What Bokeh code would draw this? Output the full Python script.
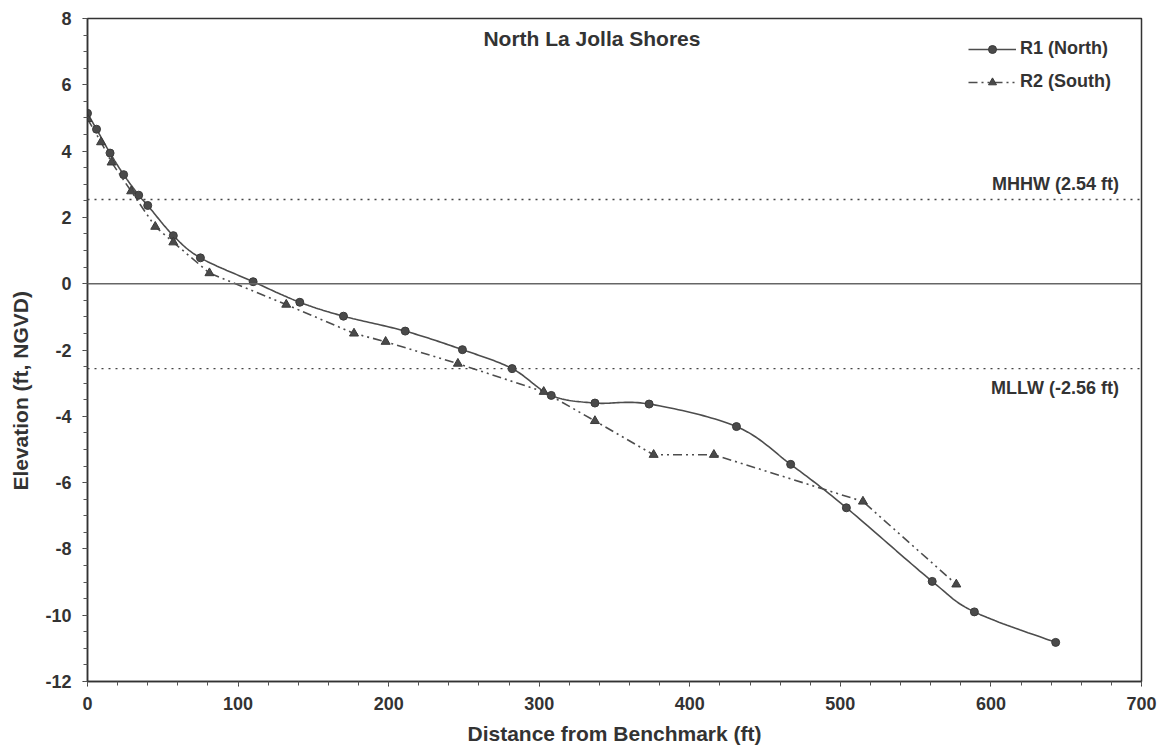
import numpy as np
from bokeh.plotting import figure
from bokeh.models import Label, Span, Legend, LegendItem, SingleIntervalTicker, Range1d, PrintfTickFormatter
from bokeh.embed import file_html
from bokeh.resources import INLINE

# ---- data ----
r1_x = [0, 6, 15, 24, 34, 40, 57, 75, 110, 141, 170, 211, 249, 282, 308, 337, 373, 431, 467, 504, 561, 589, 643]
r1_y = [5.14, 4.66, 3.94, 3.29, 2.67, 2.36, 1.45, 0.78, 0.06, -0.56, -0.98, -1.43, -1.99, -2.56,
        -3.37, -3.60, -3.63, -4.31, -5.45, -6.76, -8.98, -9.90, -10.82]
r2_x = [0, 9, 16, 29, 45, 57, 81, 132, 177, 198, 246, 303, 337, 376, 416, 515, 577]
r2_y = [4.97, 4.27, 3.66, 2.79, 1.72, 1.25, 0.32, -0.63, -1.50, -1.75, -2.41, -3.26, -4.14,
        -5.16, -5.16, -6.57, -9.07]
series_names = ["R1 (North)", "R2 (South)"]
mhhw = 2.54
mllw = -2.56
title_text = "North La Jolla Shores"
x_label = "Distance from Benchmark (ft)"
y_label = "Elevation (ft, NGVD)"

FONT = "Liberation Sans"
TXT = "#333333"
FS = "18px"
FS_T = "21px"


def smooth(xs, ys, n=24):
    """Catmull-Rom style smoothing (like a spreadsheet 'smoothed line')."""
    P = np.column_stack([xs, ys]).astype(float)
    out = [P[0]]
    t = np.linspace(0, 1, n)[1:, None]
    for i in range(len(P) - 1):
        p0 = P[i - 1] if i > 0 else P[i]
        p1, p2 = P[i], P[i + 1]
        p3 = P[i + 2] if i + 2 < len(P) else P[i + 1]
        c1 = p1 + (p2 - p0) / 6.0
        c2 = p2 - (p3 - p1) / 6.0
        seg = ((1 - t) ** 3) * p1 + 3 * ((1 - t) ** 2) * t * c1 + 3 * (1 - t) * t ** 2 * c2 + t ** 3 * p2
        out.extend(seg)
    out = np.array(out)
    return out[:, 0], out[:, 1]


p = figure(width=1158, height=752, frame_width=1054, frame_height=663,
           min_border_left=87, min_border_right=17, min_border_top=18, min_border_bottom=71,
           x_range=Range1d(0, 700), y_range=Range1d(-12, 8),
           output_backend="svg", toolbar_location=None, background_fill_color="white",
           border_fill_color="white")
p.grid.visible = False
p.outline_line_color = "#333333"
p.outline_line_width = 1.5

p.xaxis.ticker = SingleIntervalTicker(interval=100, num_minor_ticks=5)
p.yaxis.ticker = SingleIntervalTicker(interval=2, num_minor_ticks=4)
p.xaxis.formatter = PrintfTickFormatter(format="%d")
p.yaxis.formatter = PrintfTickFormatter(format="%d")
for ax in (p.xaxis[0], p.yaxis[0]):
    ax.axis_line_color = "#333333"
    ax.axis_line_width = 1.5
    ax.major_tick_line_color = "#333333"
    ax.minor_tick_line_color = "#555555"
    ax.major_tick_out = 5
    ax.major_tick_in = 0
    ax.minor_tick_out = 4
    ax.minor_tick_in = 0
    ax.major_label_text_font = FONT
    ax.major_label_text_font_style = "bold"
    ax.major_label_text_font_size = FS
    ax.major_label_text_color = TXT
    ax.axis_label_text_font = FONT
    ax.axis_label_text_font_style = "bold"
    ax.axis_label_text_font_size = FS_T
    ax.axis_label_text_color = TXT
p.xaxis.axis_label = x_label
# trailing no-break spaces push the visible y title down beside the 0 .. -6 ticks, as in the reference
p.yaxis.axis_label = y_label + "\u00a0" * 14
p.xaxis.major_label_standoff = 10
p.yaxis.major_label_standoff = 11
p.xaxis.axis_label_standoff = 9
p.yaxis.axis_label_standoff = 10

# reference lines
p.add_layout(Span(location=0, dimension="width", line_color="#666666", line_width=1.6))
p.add_layout(Span(location=mhhw, dimension="width", line_color="#444444", line_width=1.3, line_dash="2 5"))
p.add_layout(Span(location=mllw, dimension="width", line_color="#444444", line_width=1.3, line_dash="2 5"))

# series: R1 smoothed, R2 straight segments
sx1, sy1 = smooth(r1_x, r1_y)
l1 = p.line(sx1, sy1, line_color="#4d4d4d", line_width=1.6)
m1 = p.scatter(r1_x, r1_y, marker="circle", size=8, fill_color="#4a4a4a", line_color="#3a3a3a")
l2 = p.line(r2_x, r2_y, line_color="#4d4d4d", line_width=1.6, line_dash="9 4 2 4 2 4")
m2 = p.scatter(r2_x, r2_y, marker="triangle", size=9, fill_color="#4a4a4a", line_color="#3a3a3a")

legend = Legend(items=[LegendItem(label=series_names[0], renderers=[l1, m1]),
                       LegendItem(label=series_names[1], renderers=[l2, m2])],
                location="top_right", border_line_color=None, background_fill_alpha=0,
                glyph_width=48, glyph_height=20, label_standoff=4, spacing=12,
                padding=10, margin=20, label_width=101,
                label_text_font=FONT, label_text_font_style="bold",
                label_text_font_size=FS, label_text_color=TXT)
p.add_layout(legend)

p.add_layout(Label(x=335, y=7.40, text=title_text, text_align="center", text_baseline="middle",
                   text_font=FONT, text_font_style="bold", text_font_size=FS_T, text_color=TXT))
p.add_layout(Label(x=685, y=3.02, text="MHHW (2.54 ft)", text_align="right", text_baseline="middle",
                   text_font=FONT, text_font_style="bold", text_font_size=FS, text_color=TXT))
p.add_layout(Label(x=685, y=-3.14, text="MLLW (-2.56 ft)", text_align="right", text_baseline="middle",
                   text_font=FONT, text_font_style="bold", text_font_size=FS, text_color=TXT))

open("out.html", "w").write(file_html(p, INLINE))
